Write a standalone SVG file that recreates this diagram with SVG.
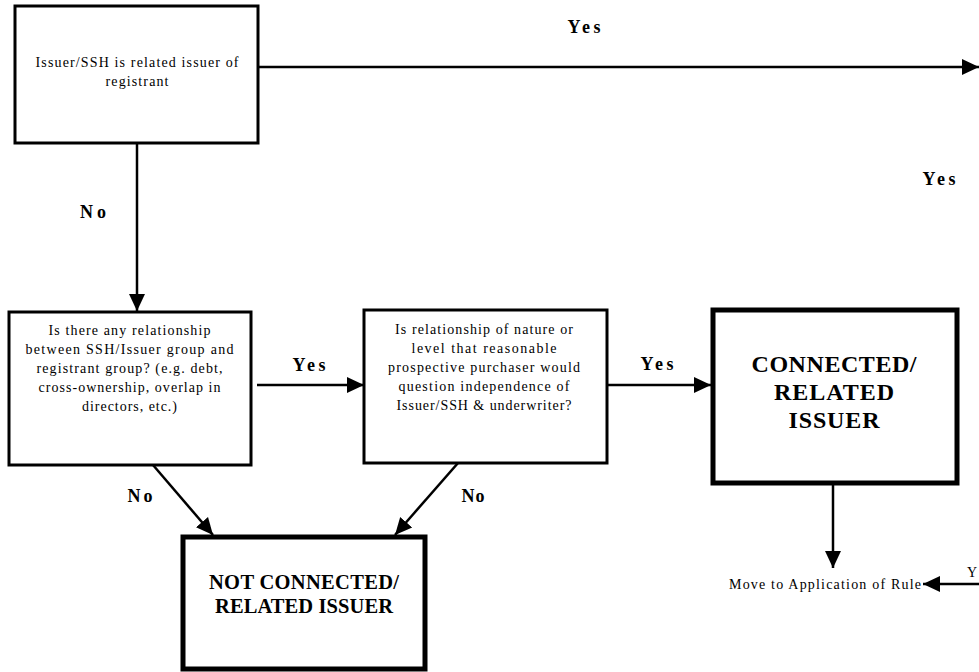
<svg xmlns="http://www.w3.org/2000/svg" width="979" height="672" viewBox="0 0 979 672">
<defs>
<marker id="ah" markerWidth="18" markerHeight="18" refX="17" refY="9" orient="auto" markerUnits="userSpaceOnUse"><path d="M0,1 L17,9 L0,17 Z" fill="#000"/></marker>
<style>
.box{fill:#fff;stroke:#000;stroke-width:3}
.tbox{fill:#fff;stroke:#000;stroke-width:5}
.t{font-family:'Liberation Serif','DejaVu Serif','Noto Serif',serif;font-size:14px;fill:#000;text-anchor:middle}
.lbl{font-family:'Liberation Serif','DejaVu Serif','Noto Serif',serif;font-size:18px;font-weight:bold;fill:#000;text-anchor:middle}
.big{font-family:'Liberation Serif','DejaVu Serif','Noto Serif',serif;font-size:24px;font-weight:bold;fill:#000;text-anchor:middle}
.mid{font-family:'Liberation Serif','DejaVu Serif','Noto Serif',serif;font-size:20.5px;font-weight:bold;fill:#000;text-anchor:middle}
.c{stroke:#000;stroke-width:2.5;fill:none}
</style>
</defs>
<rect width="979" height="672" fill="#fff"/>
<g id="connectors">
<line class="c" x1="258" y1="67" x2="979" y2="67" marker-end="url(#ah)"/>
<line class="c" x1="137" y1="143" x2="137" y2="311" marker-end="url(#ah)"/>
<line class="c" x1="257" y1="385" x2="364" y2="385" marker-end="url(#ah)"/>
<line class="c" x1="607" y1="385" x2="711" y2="385" marker-end="url(#ah)"/>
<line class="c" x1="833" y1="484" x2="833" y2="568" marker-end="url(#ah)"/>
<line class="c" x1="979" y1="584" x2="923" y2="584" marker-end="url(#ah)"/>
<line class="c" x1="153" y1="465" x2="213" y2="535" marker-end="url(#ah)"/>
<line class="c" x1="458" y1="463" x2="395" y2="535" marker-end="url(#ah)"/>
<text class="lbl" font-family="Liberation Serif, serif" x="584" y="33" textLength="33">Yes</text>
<text class="lbl" x="93" y="218" textLength="26">No</text>
<text class="lbl" x="939" y="185" textLength="33">Yes</text>
<text class="lbl" x="309" y="371" textLength="33">Yes</text>
<text class="lbl" x="657" y="370" textLength="33">Yes</text>
<text class="lbl" x="140" y="502" textLength="25">No</text>
<text class="lbl" x="473" y="502" textLength="23">No</text>
<text class="t" x="972" y="577">Y</text>
</g>
<g id="n1">
<rect class="box" x="15" y="6" width="243" height="137"/>
<text class="t" x="137" y="67" textLength="203">Issuer/SSH is related issuer of</text>
<text class="t" x="137" y="86" textLength="63">registrant</text>
</g>
<g id="n2">
<rect class="box" x="9" y="312" width="242" height="153"/>
<text class="t" x="129.5" y="335" textLength="162">Is there any relationship</text>
<text class="t" x="129.5" y="354" textLength="208">between SSH/Issuer group and</text>
<text class="t" x="129.5" y="373" textLength="186">registrant group? (e.g. debt,</text>
<text class="t" x="129.5" y="392" textLength="182">cross-ownership, overlap in</text>
<text class="t" x="129.5" y="411" textLength="95">directors, etc.)</text>
</g>
<g id="n3">
<rect class="box" x="364" y="310" width="243" height="153"/>
<text class="t" x="484" y="334" textLength="178">Is relationship of nature or</text>
<text class="t" x="484" y="353" textLength="145">level that reasonable</text>
<text class="t" x="484" y="372" textLength="192">prospective purchaser would</text>
<text class="t" x="484" y="391" textLength="171">question independence of</text>
<text class="t" x="484" y="410" textLength="175">Issuer/SSH &amp; underwriter?</text>
</g>
<g id="n4">
<rect class="tbox" x="713" y="310" width="244" height="173"/>
<text class="big" x="834" y="372" textLength="165">CONNECTED/</text>
<text class="big" x="834" y="400" textLength="120">RELATED</text>
<text class="big" x="834" y="428" textLength="91">ISSUER</text>
</g>
<g id="n5">
<rect class="tbox" x="183" y="537" width="242" height="132"/>
<text class="mid" x="304" y="589" textLength="190">NOT CONNECTED/</text>
<text class="mid" x="304" y="613" textLength="178">RELATED ISSUER</text>
</g>
<g id="n6">
<text class="t" x="825" y="589" textLength="192">Move to Application of Rule</text>
</g>
</svg>
